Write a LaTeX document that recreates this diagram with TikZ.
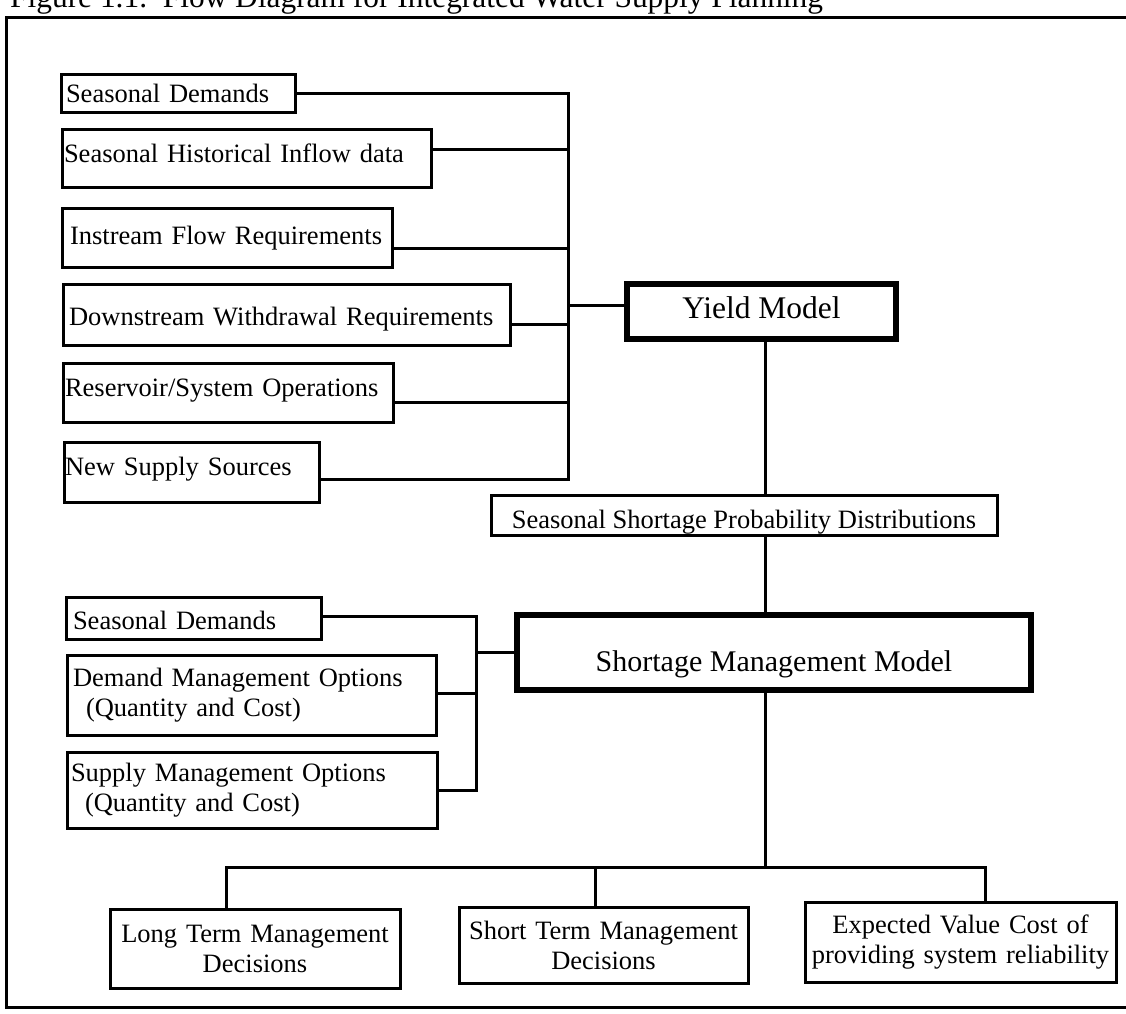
\documentclass[tikz,border=0pt]{standalone}
\usepackage{fontspec}
\setmainfont{Liberation Serif}
\tikzset{
  conn/.style={line width=3pt},
  box/.style={draw, line width=3pt, inner ysep=0pt, align=left,
              font=\fontsize{26.5}{30}\selectfont},
  twoline/.style={box, align=center, inner xsep=2pt},
  thickbox/.style={draw, line width=5.5pt, inner xsep=0pt, inner ysep=0pt, align=center},
}
\begin{document}
\begin{tikzpicture}[x=1pt, y=-1pt]
\useasboundingbox (0,0) rectangle (1126,1013);

% frame and title
\draw[line width=3pt] (6,17) rectangle (1140,1007);
\node[anchor=base west, inner sep=0pt, font=\fontsize{31.4}{36}\selectfont] (title) at (10,7)
  {Figure 1.1.~~Flow Diagram for Integrated Water Supply Planning};

% yield model inputs
\node[box, minimum width=234pt, minimum height=38pt, inner xsep=5pt, text width=224pt, text height=18pt, text depth=0pt] (sd1) at (178,93) {Seasonal Demands};
\node[box, minimum width=369pt, minimum height=58pt, inner xsep=2pt, text width=365pt, text height=8pt, text depth=0pt] (shi) at (246.5,158) {Seasonal Historical Inflow data};
\node[box, minimum width=330pt, minimum height=59pt, inner xsep=8pt, text width=314pt, text height=13pt, text depth=0pt] (ifr) at (227,237.5) {Instream Flow Requirements};
\node[box, minimum width=447pt, minimum height=61pt, inner xsep=6pt, text width=435pt, text height=21pt, text depth=0pt] (dwr) at (286.5,314.5) {Downstream Withdrawal Requirements};
\node[box, minimum width=330pt, minimum height=59pt, inner xsep=2pt, text width=326pt, text height=7pt, text depth=0pt] (rso) at (228,392.5) {Reservoir/System Operations};
\node[box, minimum width=255pt, minimum height=60pt, inner xsep=1pt, text width=253pt, text height=6pt, text depth=0pt] (nss) at (191.5,472) {New Supply Sources};

% central chain
\node[thickbox, minimum width=269pt, minimum height=55pt, font=\fontsize{31.5}{36}\selectfont, text height=13pt, text depth=0pt] (yield) at (761.5,311.5) {Yield Model};
\node[box, align=center, minimum width=506pt, minimum height=40pt, inner xsep=0pt, text height=26pt, text depth=0pt] (ssp) at (744,515) {Seasonal Shortage Probability Distributions};
\node[thickbox, minimum width=514pt, minimum height=75pt, font=\fontsize{30}{34}\selectfont, text height=37pt, text depth=0pt] (smm) at (774,652.5) {Shortage Management Model};

% shortage model inputs
\node[box, minimum width=255pt, minimum height=42pt, inner xsep=7pt, text width=241pt, text height=22pt, text depth=0pt] (sd2) at (193.5,618) {Seasonal Demands};
\node[box, minimum width=369pt, minimum height=80pt, inner xsep=6pt, text width=357pt] (dmo) at (251.5,695) {Demand Management Options\\\hspace*{13pt}(Quantity and Cost)};
\node[box, minimum width=370pt, minimum height=76pt, inner xsep=4pt, text width=362pt] (smo) at (252,790) {Supply Management Options\\\hspace*{14pt}(Quantity and Cost)};

% outputs
\node[twoline, minimum width=290pt, minimum height=79pt, text width=286pt] (ltm) at (255,948.5) {Long Term Management\\Decisions};
\node[twoline, minimum width=289pt, minimum height=76pt, text width=285pt] (stm) at (603.5,945) {Short Term Management\\Decisions};
\node[twoline, minimum width=311pt, minimum height=80pt, text width=307pt] (evc) at (960.5,942) {Expected Value Cost of\\providing system reliability};

% helper coordinates
\coordinate (bus1) at (568,92);
\coordinate (bus2) at (476,616);
\coordinate (sp) at (765,0);
\coordinate (hb) at (0,867);
\coordinate (dl) at (226,0);
\coordinate (ds) at (595,0);
\coordinate (de) at (985,0);

\path ([yshift=9pt]shi.east) coordinate (shiE);
\path ([yshift=-10.5pt]ifr.east) coordinate (ifrE);
\path ([yshift=-9.5pt]dwr.east) coordinate (dwrE);
\path ([yshift=-9.5pt]rso.east) coordinate (rsoE);
\path ([yshift=-7pt]nss.east) coordinate (nssE);
\path ([yshift=6.5pt]yield.west) coordinate (yW);
\path ([yshift=2pt]sd2.east) coordinate (sd2E);
\path ([yshift=2pt]dmo.east) coordinate (dmoE);

% connectors group 1
\draw[conn] (sd1.east) -| (nssE -| bus1) -- (nssE);
\draw[conn] (shiE) -- (shiE -| bus1);
\draw[conn] (ifrE) -- (ifrE -| bus1);
\draw[conn] (dwrE) -- (dwrE -| bus1);
\draw[conn] (rsoE) -- (rsoE -| bus1);
\draw[conn] (yW -| bus1) -- (yW);

% spine
\draw[conn] (sp |- yield.south) -- (sp |- ssp.north);
\draw[conn] (sp |- ssp.south) -- (sp |- smm.north);

% connectors group 2
\draw[conn] (sd2E) -| (smo.east -| bus2) -- (smo.east);
\draw[conn] (dmoE) -- (dmoE -| bus2);
\draw[conn] (smm.west -| bus2) -- (smm.west);

% outputs
\draw[conn] (sp |- smm.south) -- (sp |- hb);
\draw[conn] (dl |- ltm.north) |- (de |- hb) -- (de |- evc.north);
\draw[conn] (ds |- hb) -- (ds |- stm.north);
\end{tikzpicture}
\end{document}
